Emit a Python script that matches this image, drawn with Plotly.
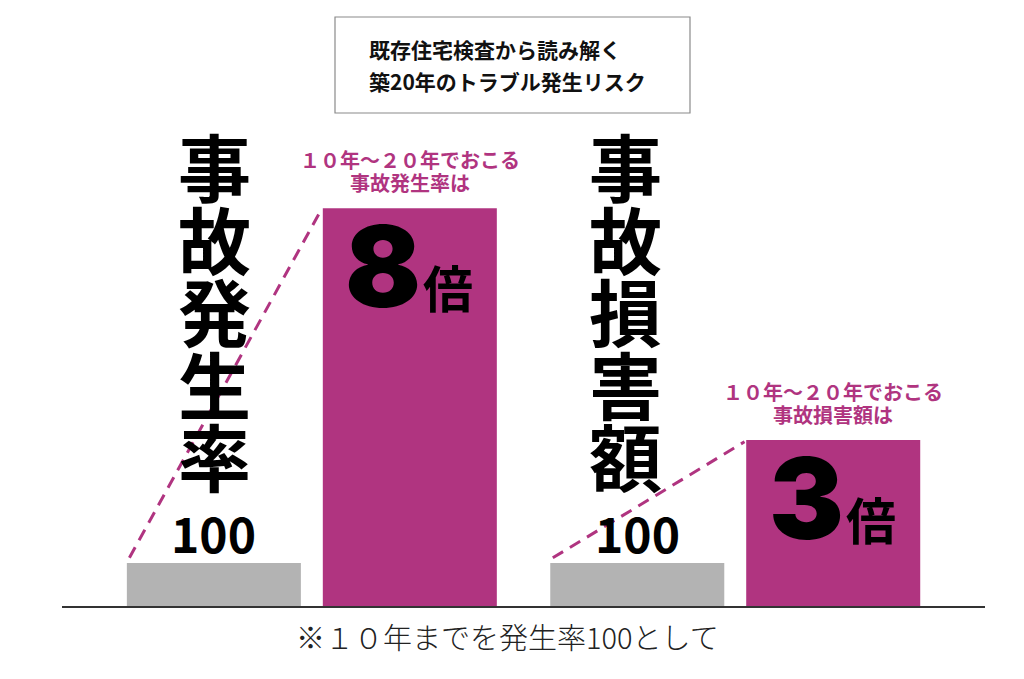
import plotly.graph_objects as go

# data
groups = [0, 1]
group_titles = ["事故発生率", "事故損害額"]
caption_top = ["１０年～２０年でおこる", "１０年～２０年でおこる"]
caption_bottom = ["事故発生率は", "事故損害額は"]
base_values = [100, 100]          # 10年まで (= 100)
later_values = [925, 386]         # 10年～20年 as drawn
base_labels = ["100", "100"]
ratio_labels = ["8", "3"]
ratio_unit = "倍"
title_lines = ["既存住宅検査から読み解く", "築20年のトラブル発生リスク"]
footnote = "※１０年までを発生率100として"

MAGENTA = "#b03480"
GRAY = "#b3b3b3"
JP = "Noto Sans CJK JP"

# page body adds an 8px margin, so the figure is drawn 8px smaller
PAGE_OFF = 8
W, H = 1024 - PAGE_OFF, 679 - PAGE_OFF
M = dict(l=54, r=39, t=39, b=73)
PLOT_W = W - M["l"] - M["r"]
PLOT_H = H - M["t"] - M["b"]
Y_MAX = 1300
X_RANGE = [-0.59, 1.59]

BAR_W = 0.411
OFF_BASE = -0.4368
OFF_LATER = 0.026


def py_to_y(py):
    # screen row -> data y
    return (H - M["b"] - (py - PAGE_OFF)) * Y_MAX / PLOT_H


def px_to_paper(px):
    return (px - PAGE_OFF - M["l"]) / PLOT_W


fig = go.Figure()

fig.add_trace(go.Bar(
    x=groups, y=base_values, width=BAR_W, offset=OFF_BASE,
    marker=dict(color=GRAY, line=dict(width=0)), hoverinfo="skip"
))
fig.add_trace(go.Bar(
    x=groups, y=later_values, width=BAR_W, offset=OFF_LATER,
    marker=dict(color=MAGENTA, line=dict(width=0)), hoverinfo="skip"
))

# dashed connectors from top-left of grey bar to top-left of magenta bar
for g, b, l in zip(groups, base_values, later_values):
    fig.add_trace(go.Scatter(
        x=[g + OFF_BASE + 0.006, g + OFF_LATER - 0.004],
        y=[b + 12, l - 4],
        mode="lines",
        line=dict(color=MAGENTA, width=3, dash="12px,8px"),
        hoverinfo="skip"
    ))

ann = []
xshift_title = [1, -12]
for i, g in enumerate(groups):
    base_c = g + OFF_BASE + BAR_W / 2
    later_c = g + OFF_LATER + BAR_W / 2
    # vertical title
    for k, ch in enumerate(group_titles[i]):
        ann.append(dict(
            x=base_c, y=py_to_y(164 + 72.5 * k), xref="x", yref="y",
            text=ch, showarrow=False, xshift=xshift_title[i],
            font=dict(family=JP, size=73, color="#000", weight=700)
        ))
    # 100 label
    ann.append(dict(
        x=base_c, y=base_values[i], xref="x", yref="y", text=base_labels[i],
        showarrow=False, yanchor="middle", yshift=31,
        font=dict(family=JP, size=48, color="#000", weight=700)
    ))
    # captions
    ann.append(dict(
        x=later_c, y=later_values[i], xref="x", yref="y", text=caption_top[i],
        showarrow=False, yanchor="middle", yshift=48.5,
        font=dict(family=JP, size=20, color=MAGENTA, weight=700)
    ))
    ann.append(dict(
        x=later_c, y=later_values[i], xref="x", yref="y", text=caption_bottom[i],
        showarrow=False, yanchor="middle", yshift=26,
        font=dict(family=JP, size=20, color=MAGENTA, weight=700)
    ))
    # ratio inside bar
    ann.append(dict(
        x=later_c, y=later_values[i], xref="x", yref="y", text=ratio_labels[i],
        showarrow=False, xanchor="right", yanchor="middle", xshift=13, yshift=-58,
        font=dict(family="Inter", size=112, color="#000", weight=900)
    ))
    ann.append(dict(
        x=later_c, y=later_values[i], xref="x", yref="y", text=ratio_unit,
        showarrow=False, xanchor="left", yanchor="middle", xshift=11, yshift=-78,
        font=dict(family=JP, size=50, color="#000", weight=700)
    ))

# title
for j, line in enumerate(title_lines):
    ann.append(dict(
        x=px_to_paper(367), y=py_to_y([49, 81][j]) / Y_MAX,
        xref="paper", yref="paper", text=line, showarrow=False,
        xanchor="left", yanchor="middle",
        font=dict(family=JP, size=21, color="#111", weight=700)
    ))

ann.append(dict(
    x=px_to_paper(507), y=py_to_y(636) / Y_MAX,
    xref="paper", yref="paper", text=footnote, showarrow=False,
    xanchor="center", yanchor="middle",
    font=dict(family=JP, size=29, color="#222", weight=300)
))

fig.add_shape(
    type="rect", xref="paper", yref="paper",
    x0=px_to_paper(335), x1=px_to_paper(690),
    y0=py_to_y(113) / Y_MAX, y1=py_to_y(17) / Y_MAX,
    line=dict(color="#8a8a8a", width=1.2), fillcolor="rgba(0,0,0,0)"
)

fig.update_layout(
    width=W, height=H, margin=M,
    barmode="overlay", showlegend=False,
    plot_bgcolor="white", paper_bgcolor="white",
    annotations=ann,
    xaxis=dict(range=X_RANGE, showgrid=False, zeroline=False, showticklabels=False,
               showline=True, linecolor="#333", linewidth=1.5, fixedrange=True),
    yaxis=dict(range=[0, Y_MAX], showgrid=False, zeroline=False, showticklabels=False,
               visible=False, fixedrange=True),
)

fig.write_html("out.html", config={"displayModeBar": False})
